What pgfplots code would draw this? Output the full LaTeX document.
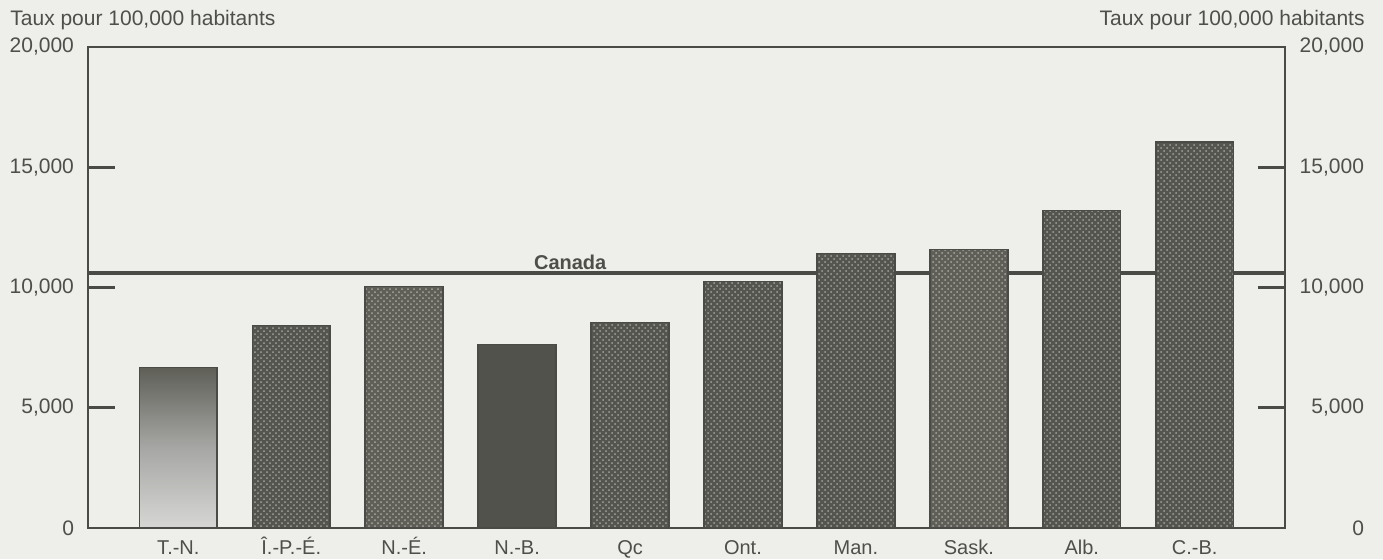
\documentclass[border=0pt]{standalone}
\usepackage{pgfplots}
\pgfplotsset{compat=1.18}
\usepackage{fontspec}
\setmainfont{Liberation Sans}
\usetikzlibrary{patterns}
\definecolor{bg}{HTML}{EEEEEB}
\definecolor{ax}{HTML}{4A4A46}
\definecolor{txt}{HTML}{4E4E4A}
\definecolor{barA}{HTML}{55554F}
\definecolor{barB}{HTML}{5F5F58}
\definecolor{barC}{HTML}{52524C}
\begin{document}
\begin{tikzpicture}
\path[use as bounding box, fill=bg] (-44pt,-15.5pt) rectangle (647.5pt,264pt);
\pgfplotsset{
  common/.style={
    scale only axis, width=598.5pt, height=240.5pt,
    xmin=-0.8, xmax=9.8, ymin=0, ymax=20000,
    ytick={0,5000,10000,15000,20000},
    scaled y ticks=false,
    /pgf/number format/.cd, 1000 sep={,}, assume math mode=true, /pgfplots/.cd,
    tick align=inside,
    major tick length=13.5pt,
    every tick/.style={ax, line width=1.4pt},
    axis line style={ax, line width=1.3pt},
    tick label style={font=\fontsize{10.5}{12}\selectfont, text=txt},
  },
  dotbar/.style={ybar, bar width=0.69, bar shift=0pt, draw=ax, line width=0.8pt, fill=#1,
    postaction={pattern=crosshatch dots, pattern color=#1!55!white}},
}
\begin{axis}[common,
  ytick pos=left,
  xtick={0,...,9},
  xtick style={draw=none},
  xticklabels={T.-N., Î.-P.-É., N.-É., N.-B., Qc, Ont., Man., Sask., Alb., C.-B.},
  xticklabel style={font=\fontsize{10}{12}\selectfont, anchor=base, yshift=-13pt},
  yticklabel style={xshift=-3.5pt},
  clip=false,
]
% Canada average line (behind the bars)
\addplot[ax, line width=1.7pt] coordinates {(-0.8,10600) (9.8,10600)};
\addplot[ybar, bar width=0.69, bar shift=0pt, draw=ax, line width=0.8pt,
  top color=barB, bottom color=black!10!bg, middle color=black!30!bg] coordinates {(0,6670)};
\addplot[dotbar=barA] coordinates {(1,8420)};
\addplot[dotbar=barB] coordinates {(2,10040)};
\addplot[ybar, bar width=0.69, bar shift=0pt, draw=ax, line width=0.8pt, fill=barC] coordinates {(3,7625)};
\addplot[dotbar=barA] coordinates {(4,8540)};
\addplot[dotbar=barA] coordinates {(5,10250)};
\addplot[dotbar=barA] coordinates {(6,11420)};
\addplot[dotbar=barB] coordinates {(7,11580)};
\addplot[dotbar=barA] coordinates {(8,13210)};
\addplot[dotbar=barA] coordinates {(9,16040)};
\node[anchor=south, font=\bfseries\fontsize{10}{12}\selectfont, text=txt, inner sep=1.5pt]
  at (axis cs:3.47,10600) {Canada};
\end{axis}
\begin{axis}[common,
  axis x line=none,
  axis y line*=right,
  ytick pos=right,
  yticklabel style={anchor=east, xshift=43pt},
]
\addplot[draw=none] coordinates {(0,0)};
\end{axis}
\node[anchor=west, font=\fontsize{10.5}{12}\selectfont, text=txt, inner sep=0pt] at (-39pt,254pt) {Taux pour 100,000 habitants};
\node[anchor=east, font=\fontsize{10.5}{12}\selectfont, text=txt, inner sep=0pt] at (638.5pt,254pt) {Taux pour 100,000 habitants};
\end{tikzpicture}
\end{document}
